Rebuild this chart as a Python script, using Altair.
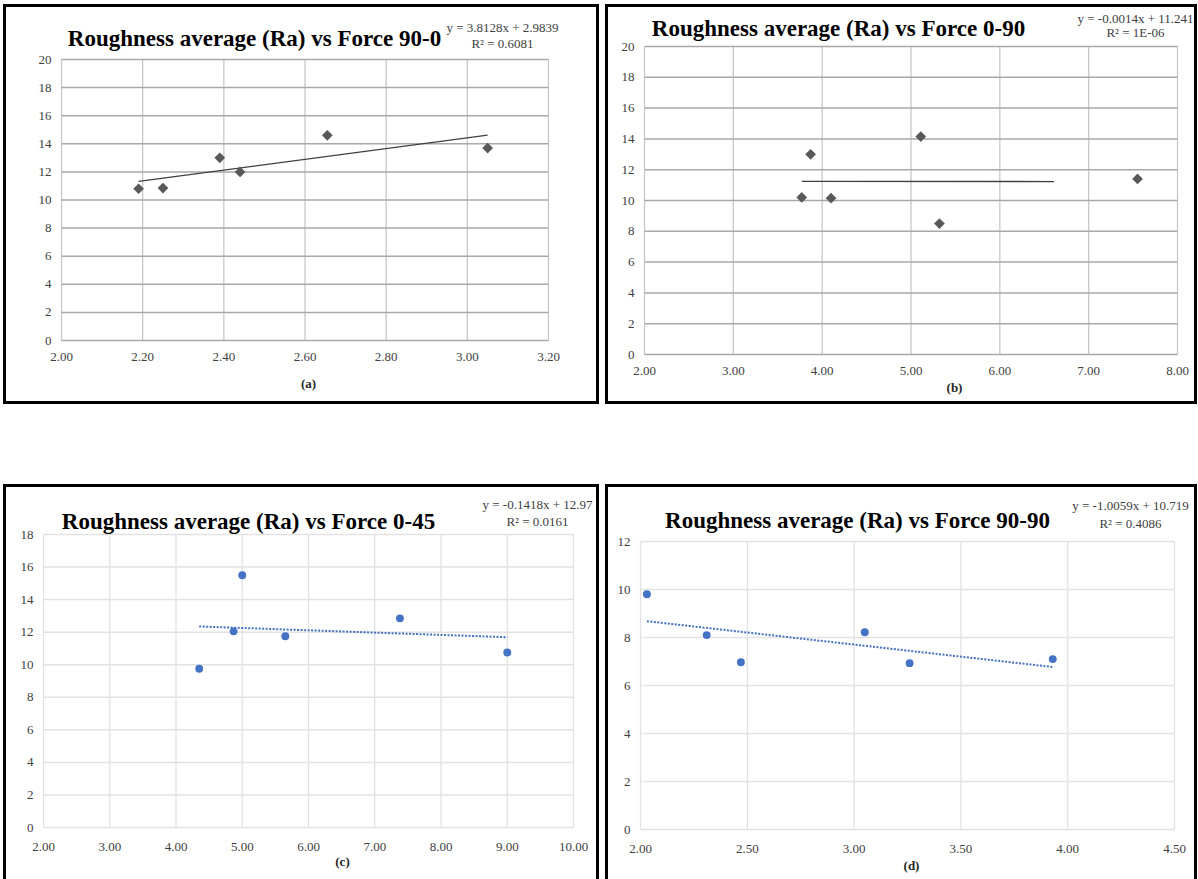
import altair as alt
import pandas as pd

# ---------------- data ----------------
titles = [
    "Roughness average (Ra) vs Force 90-0",
    "Roughness average (Ra) vs Force 0-90",
    "Roughness average (Ra) vs Force 0-45",
    "Roughness average (Ra) vs Force 90-90",
]
equations = [
    ["y = 3.8128x + 2.9839", "R\u00b2 = 0.6081"],
    ["y = -0.0014x + 11.241", "R\u00b2 = 1E-06"],
    ["y = -0.1418x + 12.97", "R\u00b2 = 0.0161"],
    ["y = -1.0059x + 10.719", "R\u00b2 = 0.4086"],
]
captions = ["(a)", "(b)", "(c)", "(d)"]

a_x = [2.19, 2.25, 2.39, 2.44, 2.655, 3.05]
a_y = [10.8, 10.85, 13.0, 12.0, 14.6, 13.7]
a_trend_x = [2.19, 3.05]
a_trend_y = [11.33, 14.61]

b_x = [3.77, 3.87, 4.10, 5.11, 5.32, 7.55]
b_y = [10.2, 13.0, 10.15, 14.15, 8.5, 11.4]
b_trend_x = [3.77, 6.61]
b_trend_y = [11.236, 11.232]

c_x = [4.35, 4.87, 5.00, 5.65, 7.38, 9.00]
c_y = [9.75, 12.05, 15.5, 11.75, 12.85, 10.75]
c_trend_x = [4.35, 9.00]
c_trend_y = [12.35, 11.69]

d_x = [2.03, 2.31, 2.47, 3.05, 3.26, 3.93]
d_y = [9.8, 8.1, 6.97, 8.22, 6.93, 7.1]
d_trend_x = [2.03, 3.93]
d_trend_y = [8.68, 6.77]

x_ticks = [
    [2.0, 2.2, 2.4, 2.6, 2.8, 3.0, 3.2],
    [2, 3, 4, 5, 6, 7, 8],
    [2, 3, 4, 5, 6, 7, 8, 9, 10],
    [2.0, 2.5, 3.0, 3.5, 4.0, 4.5],
]
x_tick_labels = [
    ["2.00", "2.20", "2.40", "2.60", "2.80", "3.00", "3.20"],
    ["2.00", "3.00", "4.00", "5.00", "6.00", "7.00", "8.00"],
    ["2.00", "3.00", "4.00", "5.00", "6.00", "7.00", "8.00", "9.00", "10.00"],
    ["2.00", "2.50", "3.00", "3.50", "4.00", "4.50"],
]
y_ticks = [
    [0, 2, 4, 6, 8, 10, 12, 14, 16, 18, 20],
    [0, 2, 4, 6, 8, 10, 12, 14, 16, 18, 20],
    [0, 2, 4, 6, 8, 10, 12, 14, 16, 18],
    [0, 2, 4, 6, 8, 10, 12],
]
y_tick_labels = [[str(v) for v in t] for t in y_ticks]

# ---------------- layout / style ----------------
SERIF = "Liberation Serif"
# view = the framed box of each panel; plot area placed inside by scale ranges
panels = [
    dict(W=593, H=397, xr=(57, 544), yr=(335, 54), title=(250, 40), eq=(498, 26, 42),
         cap=(304, 378), shape="diamond", color="#595959", size=115, dash=False,
         gx="#c8c8c8", gy="#a8a8a8", lp=10),
    dict(W=589, H=397, xr=(38, 571), yr=(349, 41), title=(232, 30), eq=(529, 17, 31),
         cap=(348, 382), shape="diamond", color="#595959", size=115, dash=False,
         gx="#c8c8c8", gy="#a8a8a8", lp=10),
    dict(W=593, H=395, xr=(39, 569), yr=(342, 49), title=(244, 43), eq=(533, 23, 40),
         cap=(338, 376), shape="circle", color="#4472C4", size=62, dash=True,
         gx="#e2e2e2", gy="#e2e2e2", lp=13),
    dict(W=589, H=395, xr=(34, 568), yr=(344, 56), title=(251, 42), eq=(524, 24, 42),
         cap=(305, 380), shape="circle", color="#4472C4", size=62, dash=True,
         gx="#e2e2e2", gy="#e2e2e2", lp=13),
]

series = [
    (a_x, a_y, a_trend_x, a_trend_y),
    (b_x, b_y, b_trend_x, b_trend_y),
    (c_x, c_y, c_trend_x, c_trend_y),
    (d_x, d_y, d_trend_x, d_trend_y),
]

HIDDEN_AXIS = alt.Axis(labels=False, ticks=False, domain=False, grid=False, title=None)


def make_panel(i):
    p = panels[i]
    W, H = p["W"], p["H"]
    xs, ys, tx, ty = series[i]
    pts = pd.DataFrame({"x": xs, "y": ys})
    tr = pd.DataFrame({"x": tx, "y": ty})
    xd = [x_ticks[i][0], x_ticks[i][-1]]
    yd = [y_ticks[i][0], y_ticks[i][-1]]

    xscale = alt.Scale(domain=xd, nice=False, zero=False, range=list(p["xr"]))
    yscale = alt.Scale(domain=yd, nice=False, zero=False, range=list(p["yr"]))

    def X(field):
        return alt.X(field, type="quantitative", scale=xscale, axis=HIDDEN_AXIS)

    def Y(field):
        return alt.Y(field, type="quantitative", scale=yscale, axis=HIDDEN_AXIS)

    vgrid = alt.Chart(pd.DataFrame({"v": x_ticks[i]})).mark_rule(
        color=p["gx"], strokeWidth=1.3).encode(
        x=X("v"), y=alt.datum(yd[0]), y2=alt.datum(yd[1]))
    hgrid = alt.Chart(pd.DataFrame({"v": y_ticks[i]})).mark_rule(
        color=p["gy"], strokeWidth=1.5).encode(
        y=Y("v"), x=alt.datum(xd[0]), x2=alt.datum(xd[1]))

    xlab = alt.Chart(pd.DataFrame({"v": x_ticks[i], "t": x_tick_labels[i]})).mark_text(
        font=SERIF, fontSize=13, color="#404040", align="center", baseline="top").encode(
        x=X("v"), y=alt.value(p["yr"][0] + p["lp"]), text="t:N")
    ylab = alt.Chart(pd.DataFrame({"v": y_ticks[i], "t": y_tick_labels[i]})).mark_text(
        font=SERIF, fontSize=13, color="#404040", align="right", baseline="middle").encode(
        y=Y("v"), x=alt.value(p["xr"][0] - 10), text="t:N")

    points = alt.Chart(pts).mark_point(shape=p["shape"], filled=True, fill=p["color"],
                                       size=p["size"], opacity=1, strokeWidth=0
                                       ).encode(x=X("x"), y=Y("y"))
    if p["dash"]:
        line = alt.Chart(tr).mark_line(color=p["color"], strokeWidth=2,
                                       strokeDash=[2, 1.5]).encode(x=X("x"), y=Y("y"))
    else:
        line = alt.Chart(tr).mark_line(color="#404040", strokeWidth=1.3).encode(
            x=X("x"), y=Y("y"))

    title = alt.Chart(pd.DataFrame({"t": [titles[i]]})).mark_text(
        font=SERIF, fontSize=23, fontWeight="bold", color="black",
        align="center", baseline="alphabetic").encode(
        text="t:N", x=alt.value(p["title"][0]), y=alt.value(p["title"][1]))

    ex, ey1, ey2 = p["eq"]
    e1 = alt.Chart(pd.DataFrame({"t": [equations[i][0]]})).mark_text(
        font=SERIF, fontSize=13, color="#404040", align="center", baseline="alphabetic").encode(
        text="t:N", x=alt.value(ex), y=alt.value(ey1))
    e2 = alt.Chart(pd.DataFrame({"t": [equations[i][1]]})).mark_text(
        font=SERIF, fontSize=13, color="#404040", align="center", baseline="alphabetic").encode(
        text="t:N", x=alt.value(ex), y=alt.value(ey2))

    cx, cy = p["cap"]
    cap = alt.Chart(pd.DataFrame({"t": [captions[i]]})).mark_text(
        font=SERIF, fontSize=13, fontWeight="bold", color="#262626", align="center",
        baseline="middle").encode(text="t:N", x=alt.value(cx), y=alt.value(cy))

    return alt.layer(vgrid, hgrid, line, points, xlab, ylab, title, e1, e2, cap).properties(
        width=W, height=H)


row1 = alt.hconcat(make_panel(0), make_panel(1), spacing=5)
row2 = alt.hconcat(make_panel(2), make_panel(3), spacing=5)
chart = alt.vconcat(row1, row2, spacing=79).properties(
    padding={"left": 2.5, "top": 3.5, "right": 0, "bottom": 0},
    background="white",
).configure_view(stroke="black", strokeWidth=3)

chart.save("out.html", embed_options={"renderer": "svg", "actions": False})
